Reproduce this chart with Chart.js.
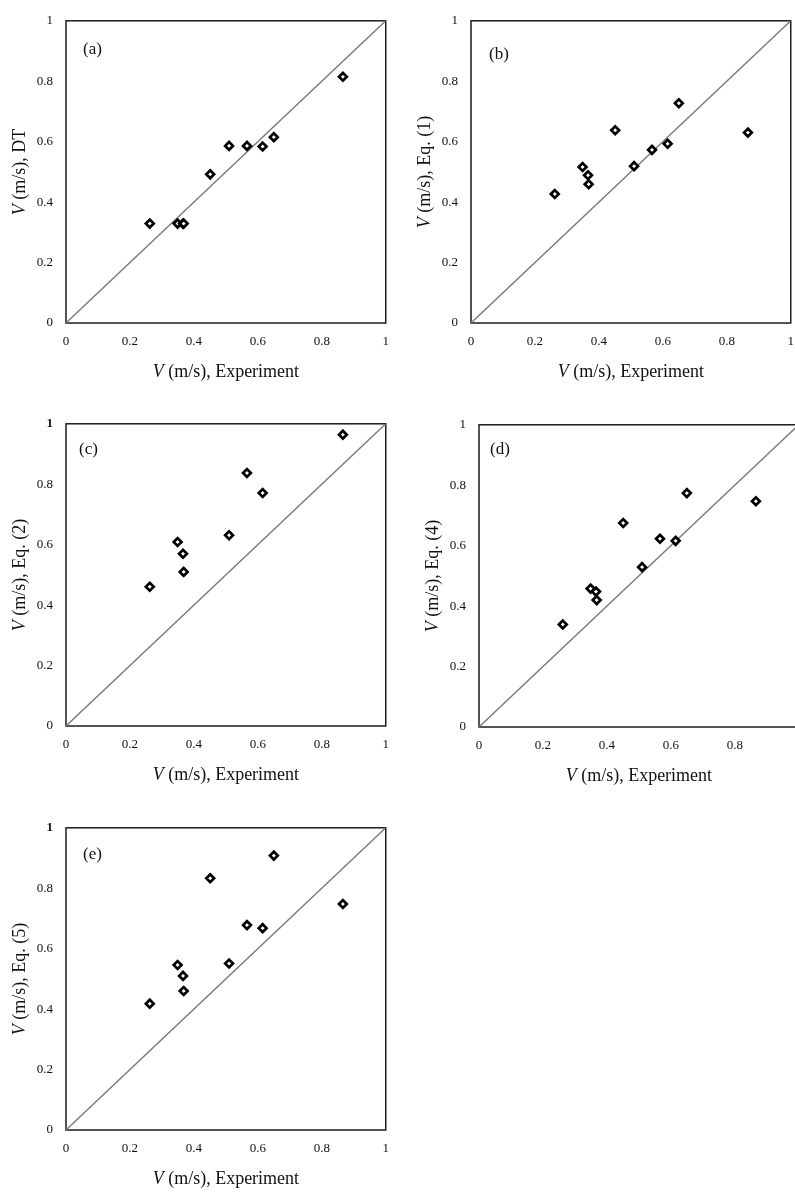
<!DOCTYPE html>
<html>
<head>
<meta charset="utf-8">
<script src="https://cdn.jsdelivr.net/npm/chart.js@4.4.1/dist/chart.umd.min.js"></script>
<style>
html, body { margin: 0; padding: 0; background: #ffffff; width: 795px; height: 1194px; overflow: hidden; }
#page { position: relative; width: 795px; height: 1194px; overflow: hidden; background: #ffffff; }
#page canvas { position: absolute; }
</style>
</head>
<body>
<div id="page">
  <canvas id="pa" width="400" height="390" style="left:0px;top:0px;"></canvas>
  <canvas id="pb" width="400" height="390" style="left:405px;top:0px;"></canvas>
  <canvas id="pc" width="400" height="390" style="left:0px;top:403px;"></canvas>
  <canvas id="pd" width="400" height="390" style="left:413px;top:404px;"></canvas>
  <canvas id="pe" width="400" height="390" style="left:0px;top:807px;"></canvas>
</div>
<script>
// ---------------- data ----------------
const experiment = [0.262, 0.349, 0.366, 0.368, 0.451, 0.510, 0.566, 0.615, 0.650, 0.866];
const predDT  = [0.329, 0.329, 0.329, 0.329, 0.492, 0.586, 0.586, 0.584, 0.615, 0.815];
const predEq1 = [0.427, 0.516, 0.489, 0.459, 0.638, 0.519, 0.573, 0.593, 0.727, 0.630];
const predEq2 = [0.461, 0.609, 0.570, 0.510, null,  0.631, 0.837, 0.771, null,  0.964];
const predEq4 = [0.339, 0.458, 0.448, 0.420, 0.675, 0.529, 0.623, 0.616, 0.774, 0.747];
const predEq5 = [0.418, 0.546, 0.510, 0.460, 0.833, 0.551, 0.678, 0.668, 0.908, 0.748];
const axisTicks  = [0, 0.2, 0.4, 0.6, 0.8, 1];
const tickLabels = ['0', '0.2', '0.4', '0.6', '0.8', '1'];
const unityLine  = [0, 1];
const panelLetters = ['(a)', '(b)', '(c)', '(d)', '(e)'];
const yTitleTails  = ['DT', 'Eq. (1)', 'Eq. (2)', 'Eq. (4)', 'Eq. (5)'];
const xTitleTail   = 'Experiment';
const predictions  = [predDT, predEq1, predEq2, predEq4, predEq5];

// ---------------- layout / style ----------------
const SERIF = '"Liberation Serif", "Times New Roman", serif';
const panels = [
  { id: 'pa', letterDx: 17, letterDy: 29, boldTop: false },
  { id: 'pb', letterDx: 18, letterDy: 34, boldTop: false },
  { id: 'pc', letterDx: 13, letterDy: 26, boldTop: true },
  { id: 'pd', letterDx: 11, letterDy: 25, boldTop: false },
  { id: 'pe', letterDx: 17, letterDy: 27, boldTop: true }
];

function drawMixed(ctx, cx, cy, parts) {
  let total = 0;
  parts.forEach(p => { ctx.font = p.font; p.w = ctx.measureText(p.text).width; total += p.w; });
  let x = cx - total / 2;
  ctx.textBaseline = 'middle';
  ctx.textAlign = 'left';
  parts.forEach(p => { ctx.font = p.font; ctx.fillText(p.text, x, cy); x += p.w; });
}

const decorPlugin = {
  id: 'decor',
  beforeDatasetsDraw(chart) {
    const { ctx, chartArea: a } = chart;
    ctx.save();
    ctx.strokeStyle = '#1c1c1c';
    ctx.lineWidth = 1.5;
    ctx.strokeRect(a.left, a.top, a.right - a.left, a.bottom - a.top);
    ctx.restore();
  },
  afterDraw(chart, args, opts) {
    const { ctx, chartArea: a } = chart;
    ctx.save();
    ctx.fillStyle = '#111111';
    // panel letter
    ctx.font = '17px ' + SERIF;
    ctx.textAlign = 'left';
    ctx.textBaseline = 'middle';
    ctx.fillText(opts.letter, a.left + opts.letterDx, a.top + opts.letterDy);
    // x title
    drawMixed(ctx, (a.left + a.right) / 2, a.bottom + 49, [
      { text: 'V', font: 'italic 18px ' + SERIF },
      { text: ' (m/s), ' + xTitleTail, font: '18px ' + SERIF }
    ]);
    // y title
    ctx.translate(a.left - 46, (a.top + a.bottom) / 2);
    ctx.rotate(-Math.PI / 2);
    drawMixed(ctx, 0, 0, [
      { text: 'V', font: 'italic 18px ' + SERIF },
      { text: ' (m/s), ' + opts.yTail, font: '18px ' + SERIF }
    ]);
    ctx.restore();
  }
};

function tickFont(boldTop) {
  return (c) => ({
    family: SERIF,
    size: 13,
    weight: (boldTop && c.tick && c.tick.value === 1) ? 'bold' : 'normal'
  });
}

panels.forEach((p, i) => {
  const pts = experiment
    .map((x, k) => ({ x: x, y: predictions[i][k] }))
    .filter(d => d.y !== null);
  const line = unityLine.map(v => ({ x: v, y: v }));
  new Chart(document.getElementById(p.id), {
    type: 'scatter',
    data: {
      datasets: [
        {
          data: pts,
          pointStyle: 'rectRot',
          pointRadius: 3.9,
          pointHoverRadius: 3.9,
          pointBorderWidth: 2.7,
          pointBackgroundColor: '#ffffff',
          pointBorderColor: '#000000'
        },
        {
          type: 'line',
          data: line,
          borderColor: '#7a7a7a',
          borderWidth: 1.4,
          pointRadius: 0,
          fill: false
        }
      ]
    },
    options: {
      responsive: false,
      animation: false,
      devicePixelRatio: 1,
      layout: { padding: { left: 0, top: 16, right: 14, bottom: 0 } },
      plugins: {
        legend: { display: false },
        tooltip: { enabled: false },
        decor: { letter: panelLetters[i], yTail: yTitleTails[i], letterDx: p.letterDx, letterDy: p.letterDy }
      },
      scales: {
        x: {
          type: 'linear', min: 0, max: 1,
          grid: { display: false, drawTicks: false },
          border: { display: false },
          afterBuildTicks: s => { s.ticks = axisTicks.map(v => ({ value: v })); },
          afterFit: s => { s.height = 67; },
          ticks: {
            padding: 11,
            color: '#111111',
            maxRotation: 0,
            autoSkip: false,
            font: { family: SERIF, size: 13 },
            callback: (v, idx) => tickLabels[idx]
          }
        },
        y: {
          type: 'linear', min: 0, max: 1,
          grid: { display: false, drawTicks: false },
          border: { display: false },
          afterBuildTicks: s => { s.ticks = axisTicks.map(v => ({ value: v })); },
          afterFit: s => { s.width = 66; },
          ticks: {
            padding: 13,
            color: '#111111',
            autoSkip: false,
            font: tickFont(p.boldTop),
            callback: (v, idx) => tickLabels[idx]
          }
        }
      }
    },
    plugins: [decorPlugin]
  });
});
</script>
</body>
</html>
